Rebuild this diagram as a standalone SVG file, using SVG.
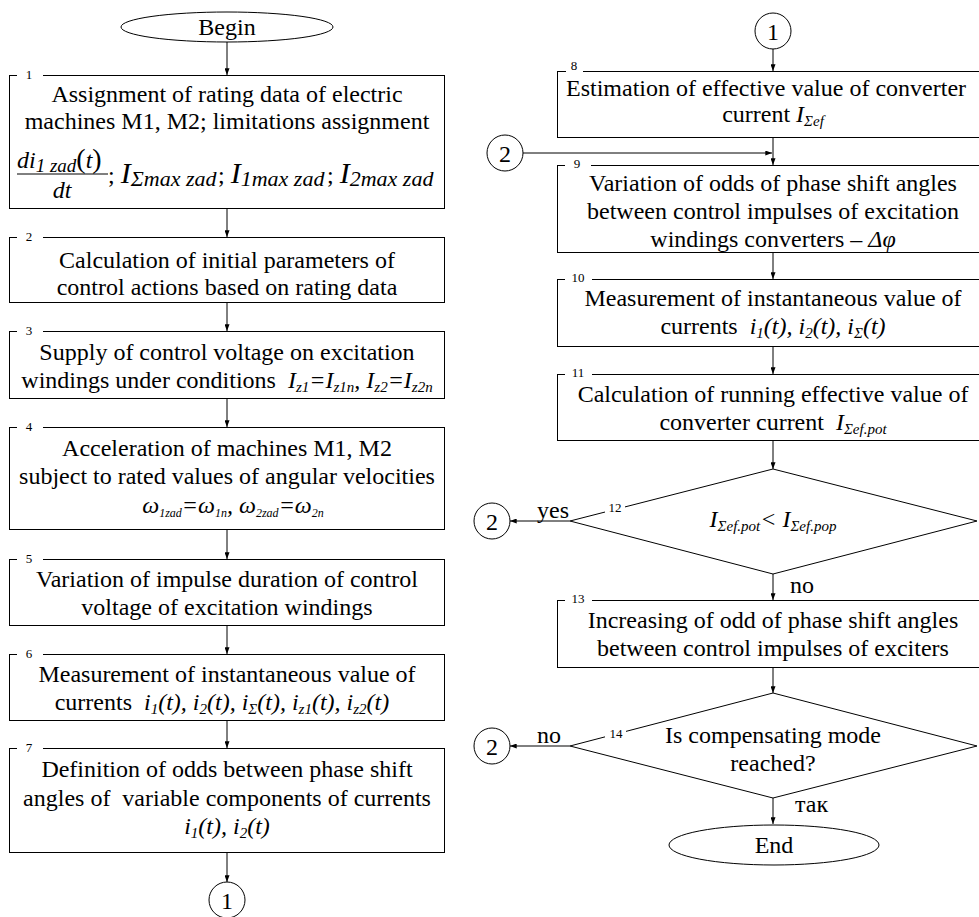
<svg xmlns="http://www.w3.org/2000/svg" width="979" height="917" viewBox="0 0 979 917">
<defs>
<marker id="ah" viewBox="0 0 8 6" refX="8" refY="3" markerWidth="7" markerHeight="5" markerUnits="userSpaceOnUse" orient="auto">
<path d="M0,0 L8,3 L0,6 z" fill="#000"/>
</marker>
<style>
.t{font-family:"Liberation Serif","Times New Roman",serif;font-size:24px;fill:#000}
.c{text-anchor:middle}
.i{font-style:italic}
.u{font-style:normal}
.n{font-family:"Liberation Serif","Times New Roman",serif;font-size:13px;fill:#000;text-anchor:middle}
.s{font-size:15px}
.b{fill:none;stroke:#000;stroke-width:1}
.w{fill:#fff;stroke:none}
.ar{stroke:#000;stroke-width:1;fill:none;marker-end:url(#ah)}
.ln{stroke:#000;stroke-width:1;fill:none}
</style>
</defs>
<rect width="979" height="917" fill="#fff"/>

<g id="connectors">
<line class="ar" x1="227" y1="42" x2="227" y2="75"/>
<line class="ar" x1="227" y1="208" x2="227" y2="237"/>
<line class="ar" x1="227" y1="302" x2="227" y2="331"/>
<line class="ar" x1="227" y1="398" x2="227" y2="427"/>
<line class="ar" x1="227" y1="529" x2="227" y2="559"/>
<line class="ar" x1="227" y1="625" x2="227" y2="654"/>
<line class="ar" x1="227" y1="720" x2="227" y2="748"/>
<line class="ar" x1="227" y1="852" x2="227" y2="882"/>
<line class="ar" x1="773" y1="49" x2="773" y2="71"/>
<line class="ar" x1="773" y1="137" x2="773" y2="165"/>
<line class="ar" x1="523" y1="153" x2="772" y2="153"/>
<line class="ar" x1="773" y1="252" x2="773" y2="279"/>
<line class="ar" x1="773" y1="346" x2="773" y2="374"/>
<line class="ar" x1="773" y1="440" x2="773" y2="469"/>
<line class="ar" x1="570" y1="521" x2="510" y2="521"/>
<line class="ar" x1="773" y1="574" x2="773" y2="600"/>
<line class="ar" x1="773" y1="667" x2="773" y2="693"/>
<line class="ar" x1="570" y1="746" x2="510" y2="746"/>
<line class="ar" x1="773" y1="798" x2="773" y2="824"/>
<text class="t" x="537" y="518">yes</text>
<text class="t" x="790" y="593">no</text>
<text class="t" x="537" y="743">no</text>
<text class="t" x="795" y="812">так</text>
</g>

<g id="begin">
<ellipse class="b" cx="227" cy="27" rx="106" ry="15"/>
<text class="t c" x="227" y="35">Begin</text>
</g>

<g id="box1">
<rect class="b" x="9.5" y="75.5" width="435" height="133"/>
<rect class="w" x="17" y="70" width="26" height="11"/>
<text class="n" x="29" y="79">1</text>
<text class="t c" x="227" y="102">Assignment of rating data of electric</text>
<text class="t c" x="227" y="129">machines M1, M2; limitations assignment</text>
<text class="t i" x="17" y="168" font-size="25">di<tspan font-size="19" dy="4">1 zad</tspan><tspan class="u" font-size="28" dy="-4">(</tspan>t<tspan class="u" font-size="28">)</tspan></text>
<line class="ln" x1="17" y1="174" x2="108" y2="174"/>
<text class="t i c" x="62" y="198" font-size="25">dt</text>
<text class="t" x="108" y="183"><tspan class="u">; </tspan><tspan class="i" font-size="30">I</tspan><tspan class="i" font-size="22" dy="3">Σmax zad</tspan></text>
<text class="t" x="218" y="183"><tspan class="u">; </tspan><tspan class="i" font-size="30">I</tspan><tspan class="i" font-size="22" dy="3">1max zad</tspan></text>
<text class="t" x="327" y="183"><tspan class="u">; </tspan><tspan class="i" font-size="30">I</tspan><tspan class="i" font-size="22" dy="3">2max zad</tspan></text>
</g>

<g id="box2">
<rect class="b" x="9.5" y="237.5" width="435" height="65"/>
<rect class="w" x="17" y="232" width="26" height="11"/>
<text class="n" x="29" y="241">2</text>
<text class="t c" x="227" y="268">Calculation of initial parameters of</text>
<text class="t c" x="227" y="295">control actions based on rating data</text>
</g>

<g id="box3">
<rect class="b" x="9.5" y="331.5" width="435" height="67"/>
<rect class="w" x="17" y="326" width="26" height="11"/>
<text class="n" x="29" y="335">3</text>
<text class="t c" x="227" y="360">Supply of control voltage on excitation</text>
<text class="t c" x="227" y="388">windings under conditions&#160; <tspan class="i">I<tspan class="s" dy="4">z1</tspan><tspan dy="-4">=I</tspan><tspan class="s" dy="4">z1n</tspan><tspan dy="-4">, I</tspan><tspan class="s" dy="4">z2</tspan><tspan dy="-4">=I</tspan><tspan class="s" dy="4">z2n</tspan></tspan></text>
</g>

<g id="box4">
<rect class="b" x="9.5" y="427.5" width="435" height="102"/>
<rect class="w" x="17" y="422" width="26" height="11"/>
<text class="n" x="29" y="431">4</text>
<text class="t c" x="227" y="456">Acceleration of machines M1, M2</text>
<text class="t c" x="227" y="484">subject to rated values of angular velocities</text>
<text class="t c i" x="233" y="513" font-size="19">ω<tspan font-size="12" dy="4">1zad</tspan><tspan dy="-4">=ω</tspan><tspan font-size="12" dy="4">1n</tspan><tspan dy="-4">, ω</tspan><tspan font-size="12" dy="4">2zad</tspan><tspan dy="-4">=ω</tspan><tspan font-size="12" dy="4">2n</tspan></text>
</g>

<g id="box5">
<rect class="b" x="9.5" y="559.5" width="435" height="66"/>
<rect class="w" x="17" y="554" width="26" height="11"/>
<text class="n" x="29" y="563">5</text>
<text class="t c" x="227" y="587">Variation of impulse duration of control</text>
<text class="t c" x="227" y="615">voltage of excitation windings</text>
</g>

<g id="box6">
<rect class="b" x="9.5" y="654.5" width="435" height="66"/>
<rect class="w" x="17" y="649" width="26" height="11"/>
<text class="n" x="29" y="658">6</text>
<text class="t c" x="227" y="682">Measurement of instantaneous value of</text>
<text class="t c" x="222" y="710">currents&#160; <tspan class="i">i<tspan class="s" dy="4">1</tspan><tspan dy="-4">(t), i</tspan><tspan class="s" dy="4">2</tspan><tspan dy="-4">(t), i</tspan><tspan class="s" dy="4">Σ</tspan><tspan dy="-4">(t), i</tspan><tspan class="s" dy="4">z1</tspan><tspan dy="-4">(t), i</tspan><tspan class="s" dy="4">z2</tspan><tspan dy="-4">(t)</tspan></tspan></text>
</g>

<g id="box7">
<rect class="b" x="9.5" y="748.5" width="435" height="104"/>
<rect class="w" x="17" y="743" width="26" height="11"/>
<text class="n" x="29" y="752">7</text>
<text class="t c" x="227" y="777">Definition of odds between phase shift</text>
<text class="t c" x="227" y="806">angles of&#160; variable components of currents</text>
<text class="t c i" x="227" y="834">i<tspan class="s" dy="4">1</tspan><tspan dy="-4">(t), i</tspan><tspan class="s" dy="4">2</tspan><tspan dy="-4">(t)</tspan></text>
</g>

<g id="conn1-out">
<circle class="b" cx="227" cy="900" r="18"/>
<text class="t c" x="227" y="909">1</text>
</g>

<g id="conn1-in">
<circle class="b" cx="773" cy="31" r="18"/>
<text class="t c" x="773" y="40">1</text>
</g>

<g id="box8">
<rect class="b" x="557.5" y="71.5" width="434" height="66"/>
<rect class="w" x="566" y="65" width="17" height="11"/>
<text class="n" x="574" y="70">8</text>
<text class="t c" x="766" y="96">Estimation of effective value of converter</text>
<text class="t c" x="773" y="122">current <tspan class="i">I<tspan class="s" dy="4">Σef</tspan></tspan></text>
</g>

<g id="conn2-a">
<circle class="b" cx="505" cy="153" r="18"/>
<text class="t c" x="505" y="162">2</text>
</g>

<g id="box9">
<rect class="b" x="557.5" y="165.5" width="434" height="87"/>
<rect class="w" x="565" y="160" width="26" height="11"/>
<text class="n" x="577" y="168">9</text>
<text class="t c" x="773" y="191">Variation of odds of phase shift angles</text>
<text class="t c" x="773" y="219">between control impulses of excitation</text>
<text class="t c" x="773" y="247">windings converters – <tspan class="i">Δφ</tspan></text>
</g>

<g id="box10">
<rect class="b" x="557.5" y="279.5" width="434" height="67"/>
<rect class="w" x="565" y="274" width="27" height="11"/>
<text class="n" x="578" y="282">10</text>
<text class="t c" x="773" y="306">Measurement of instantaneous value of</text>
<text class="t c" x="773" y="334">currents&#160; <tspan class="i">i<tspan class="s" dy="4">1</tspan><tspan dy="-4">(t), i</tspan><tspan class="s" dy="4">2</tspan><tspan dy="-4">(t), i</tspan><tspan class="s" dy="4">Σ</tspan><tspan dy="-4">(t)</tspan></tspan></text>
</g>

<g id="box11">
<rect class="b" x="557.5" y="374.5" width="434" height="66"/>
<rect class="w" x="565" y="369" width="27" height="11"/>
<text class="n" x="578" y="377">11</text>
<text class="t c" x="773" y="402">Calculation of running effective value of</text>
<text class="t c" x="773" y="430">converter current&#160; <tspan class="i">I<tspan class="s" dy="4">Σef.pot</tspan></tspan></text>
</g>

<g id="dec12">
<polygon class="b" points="773,469 977,521 773,574 570,521"/>
<rect class="w" x="605" y="500" width="20" height="14"/>
<text class="n" x="615" y="512">12</text>
<text class="t c i" x="773" y="527">I<tspan class="s" dy="4">Σef.pot</tspan><tspan dy="-4">&lt; I</tspan><tspan class="s" dy="4">Σef.pop</tspan></text>
</g>

<g id="conn2-b">
<circle class="b" cx="492" cy="521" r="18"/>
<text class="t c" x="492" y="530">2</text>
</g>

<g id="box13">
<rect class="b" x="557.5" y="600.5" width="434" height="67"/>
<rect class="w" x="565" y="595" width="27" height="11"/>
<text class="n" x="578" y="603">13</text>
<text class="t c" x="773" y="628">Increasing of odd of phase shift angles</text>
<text class="t c" x="773" y="656">between control impulses of exciters</text>
</g>

<g id="dec14">
<polygon class="b" points="773,693 977,746 773,798 570,746"/>
<rect class="w" x="605" y="726" width="21" height="14"/>
<text class="n" x="616" y="738">14</text>
<text class="t c" x="773" y="743">Is compensating mode</text>
<text class="t c" x="773" y="771">reached?</text>
</g>

<g id="conn2-c">
<circle class="b" cx="492" cy="746" r="18"/>
<text class="t c" x="492" y="755">2</text>
</g>

<g id="end">
<ellipse class="b" cx="774" cy="845" rx="105" ry="20"/>
<text class="t c" x="774" y="853">End</text>
</g>
</svg>
